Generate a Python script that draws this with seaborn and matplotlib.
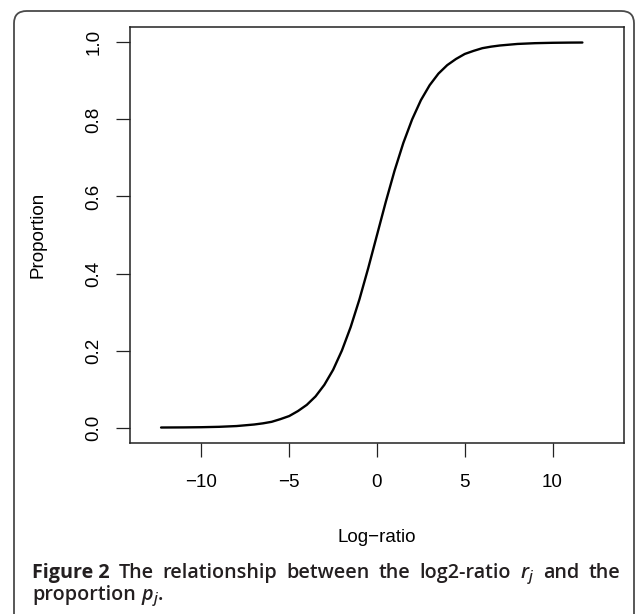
import numpy as np
import pandas as pd
import seaborn as sns
import matplotlib
matplotlib.use("Agg")
import matplotlib.pyplot as plt
from matplotlib.patches import FancyBboxPatch

# ---- data ----
log_ratio = [-12.3, -11, -10, -9, -8, -7, -6.5, -6, -5.5, -5, -4.5, -4, -3.5,
             -3, -2.5, -2, -1.5, -1, -0.5, 0, 0.5, 1, 1.5, 2, 2.5, 3, 3.5, 4,
             4.5, 5, 5.5, 6, 6.5, 7, 8, 9, 10, 11, 11.7]
proportion = [0.0002, 0.0005, 0.001, 0.002, 0.004, 0.008, 0.011, 0.015, 0.022,
              0.03, 0.043, 0.059, 0.081, 0.111, 0.15, 0.2, 0.261, 0.333, 0.414,
              0.5, 0.586, 0.667, 0.739, 0.8, 0.85, 0.889, 0.919, 0.941, 0.957,
              0.97, 0.978, 0.985, 0.989, 0.992, 0.996, 0.998, 0.999, 0.9995,
              0.9997]
x_ticks = [-10, -5, 0, 5, 10]
x_tick_labels = ["\u221210", "\u22125", "0", "5", "10"]
y_ticks = [0.0, 0.2, 0.4, 0.6, 0.8, 1.0]
y_tick_labels = ["0.0", "0.2", "0.4", "0.6", "0.8", "1.0"]

df = pd.DataFrame({"Log-ratio": log_ratio, "Proportion": proportion})

sns.set_theme(style="white")
plt.rcParams["font.family"] = ["Liberation Sans", "DejaVu Sans"]
plt.rcParams["mathtext.fontset"] = "custom"
plt.rcParams["mathtext.it"] = "Open Sans:italic:semibold"
plt.rcParams["mathtext.rm"] = "Open Sans:semibold"

W, H = 635, 614
fig = plt.figure(figsize=(W / 100, H / 100), dpi=100)
fig.patch.set_facecolor("white")

def fx(px):
    return px / W

def fy(py):
    return 1 - py / H

# outer rounded frame (open at the bottom)
frame = FancyBboxPatch((fx(14), -0.05), fx(634) - fx(14), fy(11) + 0.05,
                       boxstyle="round,pad=0,rounding_size=0.02",
                       transform=fig.transFigure, fill=False,
                       edgecolor="#4a4a4a", linewidth=1.3, clip_on=False)
fig.patches.append(frame)

ax = fig.add_axes([fx(130), fy(443), fx(624) - fx(130), fy(27) - fy(443)])
sns.lineplot(data=df, x="Log-ratio", y="Proportion", ax=ax, color="black",
             linewidth=1.7, estimator=None, sort=True)
ax.set_xlim(-14.07, 14.07)
ax.set_ylim(-0.04, 1.04)
ax.set_xticks(x_ticks)
ax.set_xticklabels(x_tick_labels)
ax.set_yticks(y_ticks)
ax.set_yticklabels(y_tick_labels, rotation=90, va="center")
for s in ax.spines.values():
    s.set_color("#222222")
    s.set_linewidth(1.1)
ax.tick_params(axis="both", which="major", direction="out", length=10,
               width=0.9, color="#222222", labelsize=13.5, labelcolor="black",
               bottom=True, left=True)
ax.tick_params(axis="x", pad=12)
ax.tick_params(axis="y", pad=10)

ax.set_xlabel("Log\u2212ratio", fontsize=13.5, color="black", va="center")
ax.xaxis.set_label_coords(0.5, (443 - 537) / 416)
ax.set_ylabel("Proportion", fontsize=13.5, color="black", va="center")
ax.yaxis.set_label_coords((38 - 130) / 494, 0.5)

# ---- caption (justified first line) ----
cap_color = "#231f20"
cap_fs = 14.2
tokens = [("Figure 2", "bold"), ("The", "semibold"), ("relationship", "semibold"),
          ("between", "semibold"), ("the", "semibold"), ("log2-ratio", "semibold"),
          ("$r_j$", "semibold"), ("and", "semibold"), ("the", "semibold")]
texts = []
for t, w in tokens:
    texts.append(fig.text(0, fy(578), t, fontsize=cap_fs, fontweight=w,
                          family="Open Sans", color=cap_color, va="baseline",
                          ha="left"))
fig.canvas.draw()
r = fig.canvas.get_renderer()
widths = [tt.get_window_extent(r).width for tt in texts]
left, right = 32, 620
gap = (right - left - sum(widths)) / (len(texts) - 1)
x = left
for tt, w in zip(texts, widths):
    tt.set_x(fx(x))
    x += w + gap

t1 = fig.text(fx(left), fy(600), "proportion", fontsize=cap_fs, fontweight="semibold",
              family="Open Sans", color=cap_color, va="baseline", ha="left")
fig.canvas.draw()
w1 = t1.get_window_extent(r).width
fig.text(fx(left + w1 + 5), fy(600), "$p_j$.", fontsize=cap_fs, fontweight="semibold",
         family="Open Sans", color=cap_color, va="baseline", ha="left")

fig.savefig("out.png", dpi=100, facecolor="white")
